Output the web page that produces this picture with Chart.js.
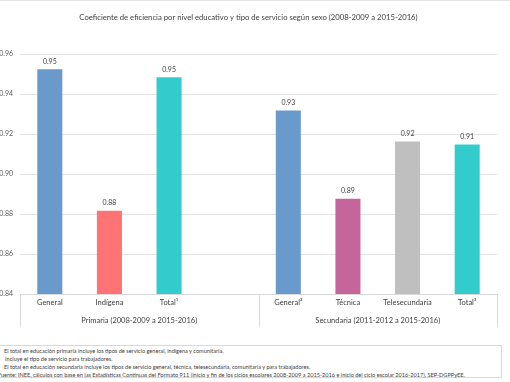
<!DOCTYPE html>
<html>
<head>
<meta charset="utf-8">
<script src="https://cdn.jsdelivr.net/npm/chart.js@4.4.0/dist/chart.umd.min.js"></script>
<style>
  body { margin: 0; width: 510px; height: 382px; overflow: hidden; background: #fff; position: relative; font-family: Lato, "Open Sans", sans-serif; }
  #wrap { position: absolute; left: 0; top: 0; width: 510px; height: 340px; }
  #topline { position: absolute; left: 0; top: 0; width: 510px; height: 1px; background: #e6e6e6; }
  #notes { position: absolute; left: -2px; top: 345px; width: 504px; height: 33px; border: 1px solid #d9d9d9; box-sizing: border-box; font-size: 5.6px; line-height: 8px; color: #404040; padding-top: 1px; }
  #notes div { white-space: nowrap; }
</style>
</head>
<body>
<div id="topline"></div>
<div id="wrap"><canvas id="myChart" width="510" height="340"></canvas></div>
<div id="notes">
  <div style="margin-left:5px">El total en educación primaria incluye los tipos de servicio general, indígena y comunitaria.</div>
  <div style="margin-left:6px">Incluye el tipo de servicio para trabajadores.</div>
  <div style="margin-left:5px">El total en educación secundaria incluye los tipos de servicio general, técnica, telesecundaria, comunitaria y para trabajadores.</div>
  <div style="margin-left:-1px">Fuente: INEE, cálculos con base en las Estadísticas Continuas del Formato 911 (inicio y fin de los ciclos escolares 2008-2009 a 2015-2016 e inicio del ciclo escolar 2016-2017), SEP-DGPPyEE.</div>
</div>
<script>
const categories = ['General', 'Indígena', 'Total¹', '', 'General²', 'Técnica', 'Telesecundaria', 'Total³'];
const values = [0.9525, 0.8817, 0.9485, null, 0.9319, 0.8877, 0.9163, 0.9148];
const barColors = ['#6a99cb', '#fe7373', '#33cccc', '#ffffff', '#6a99cb', '#c5659b', '#bfbfbf', '#33cccc'];
const groupLabels = ['Primaria (2008-2009 a 2015-2016)', 'Secundaria (2011-2012 a 2015-2016)'];
const yTicks = [0.84, 0.86, 0.88, 0.90, 0.92, 0.94, 0.96];

const fontFam = 'Lato, "Open Sans", sans-serif';

const extras = {
    id: 'extras',
    afterDatasetsDraw(chart) {
        const ctx = chart.ctx;
        const meta = chart.getDatasetMeta(0);
        ctx.save();
        ctx.fillStyle = '#404040';
        ctx.font = '7px ' + fontFam;
        ctx.textAlign = 'center';
        ctx.textBaseline = 'bottom';
        meta.data.forEach((bar, i) => {
            if (values[i] == null) return;
            ctx.fillText(values[i].toFixed(2), bar.x, bar.y - 4);
        });
        ctx.restore();
    },
    afterDraw(chart) {
        const ctx = chart.ctx;
        const x = chart.scales.x;
        const area = chart.chartArea;
        const mid = (x.getPixelForValue(3) + x.getPixelForValue(4)) / 2;
        ctx.save();
        ctx.strokeStyle = '#d9d9d9';
        ctx.lineWidth = 1;
        [area.left, mid, area.right].forEach(px => {
            ctx.beginPath();
            ctx.moveTo(Math.round(px) + 0.5, area.bottom);
            ctx.lineTo(Math.round(px) + 0.5, area.bottom + 33);
            ctx.stroke();
        });
        ctx.fillStyle = '#404040';
        ctx.font = '7.5px ' + fontFam;
        ctx.textAlign = 'center';
        ctx.textBaseline = 'middle';
        ctx.fillText(groupLabels[0], (area.left + mid) / 2, area.bottom + 27);
        ctx.fillText(groupLabels[1], (mid + area.right) / 2, area.bottom + 27);
        ctx.restore();
    }
};

new Chart(document.getElementById('myChart').getContext('2d'), {
    type: 'bar',
    data: {
        labels: categories,
        datasets: [{
            data: values,
            backgroundColor: barColors,
            barPercentage: 0.42,
            categoryPercentage: 1.0
        }]
    },
    options: {
        responsive: false,
        animation: false,
        layout: { padding: { top: 0, right: 13, bottom: 0, left: 0 } },
        plugins: {
            legend: { display: false },
            tooltip: { enabled: false },
            title: {
                display: true,
                text: 'Coeficiente de eficiencia por nivel educativo y tipo de servicio según sexo (2008-2009 a 2015-2016)',
                color: '#404040',
                font: { family: fontFam, size: 7.7, weight: 'normal' },
                padding: { top: 13, bottom: 32 }
            }
        },
        scales: {
            y: {
                min: 0.84,
                max: 0.96,
                afterBuildTicks: s => { s.ticks = yTicks.map(v => ({ value: v })); },
                afterFit: s => { s.width = 20; },
                border: { display: false },
                grid: { color: '#e3e3e3', drawTicks: false },
                ticks: {
                    padding: 7,
                    color: '#595959',
                    font: { family: fontFam, size: 7 },
                    callback: v => v.toFixed(2)
                }
            },
            x: {
                afterFit: s => { s.height = 46; },
                border: { display: true, color: '#d9d9d9' },
                grid: { display: false, drawTicks: false },
                ticks: {
                    padding: 4,
                    color: '#404040',
                    maxRotation: 0,
                    autoSkip: false,
                    font: { family: fontFam, size: 7.5 }
                }
            }
        }
    },
    plugins: [extras]
});
</script>
</body>
</html>
